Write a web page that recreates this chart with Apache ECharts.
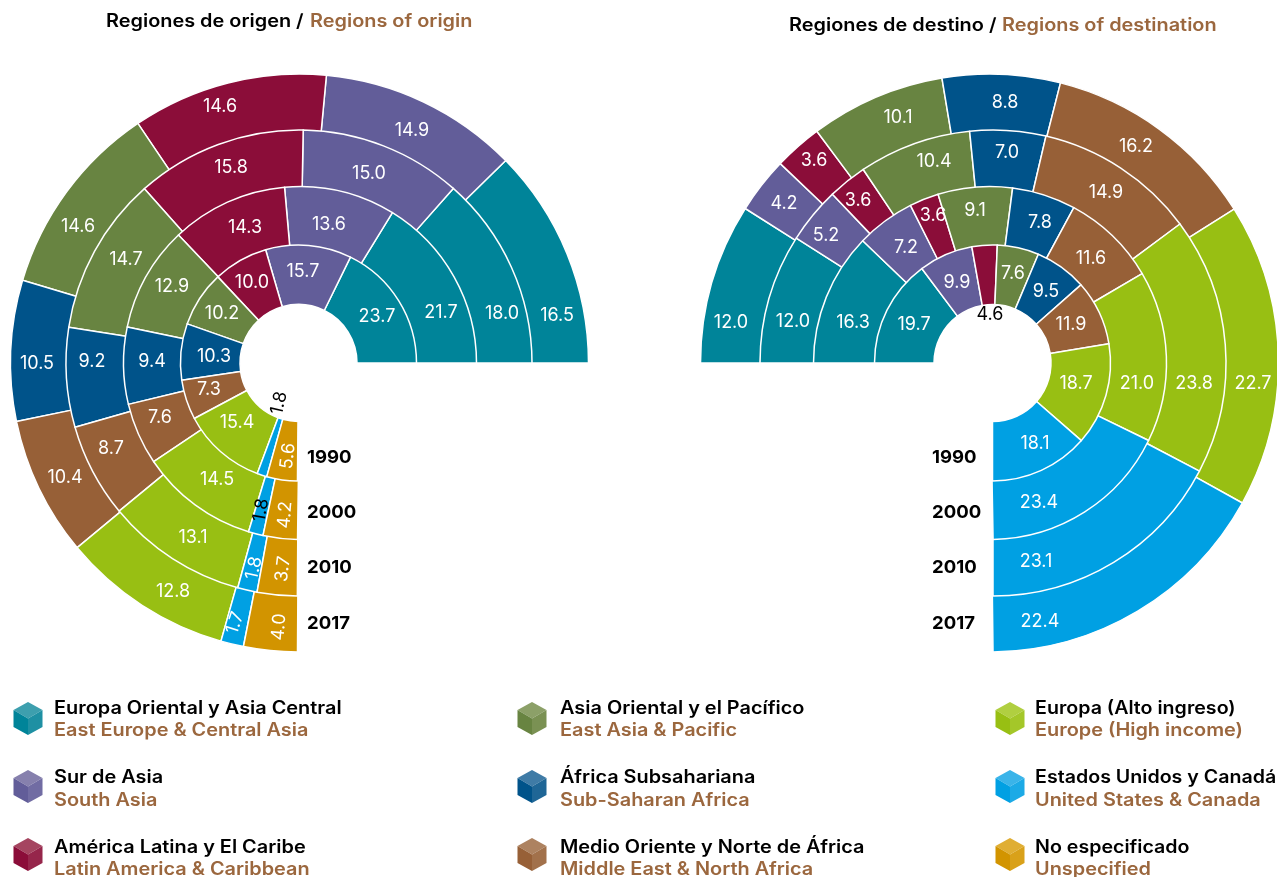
<!DOCTYPE html>
<html>
<head>
<meta charset="utf-8">
<style>html,body{margin:0;padding:0;background:#fff}#main{width:1277px;height:877px}</style>
<script src="https://cdn.jsdelivr.net/npm/echarts@6/dist/echarts.min.js"></script>
</head>
<body>
<div id="main"></div>
<script>
var years = ['1990', '2000', '2010', '2017'];

// orden: desde el este, en sentido antihorario
var originRegions = ['Europa Oriental y Asia Central', 'Sur de Asia', 'América Latina y El Caribe', 'Asia Oriental y el Pacífico', 'África Subsahariana', 'Medio Oriente y Norte de África', 'Europa (Alto ingreso)', 'Estados Unidos y Canadá', 'No especificado'];
var origin1990 = [23.7, 15.7, 10.0, 10.2, 10.3, 7.3, 15.4, 1.8, 5.6];
var origin2000 = [21.7, 13.6, 14.3, 12.9, 9.4, 7.6, 14.5, 1.8, 4.2];
var origin2010 = [18.0, 15.0, 15.8, 14.7, 9.2, 8.7, 13.1, 1.8, 3.7];
var origin2017 = [16.5, 14.9, 14.6, 14.6, 10.5, 10.4, 12.8, 1.7, 4.0];

// orden: desde el oeste, en sentido horario
var destRegions = ['Europa Oriental y Asia Central', 'Sur de Asia', 'América Latina y El Caribe', 'Asia Oriental y el Pacífico', 'África Subsahariana', 'Medio Oriente y Norte de África', 'Europa (Alto ingreso)', 'Estados Unidos y Canadá'];
var dest1990 = [19.7, 9.9, 4.6, 7.6, 9.5, 11.9, 18.7, 18.1];
var dest2000 = [16.3, 7.2, 3.6, 9.1, 7.8, 11.6, 21.0, 23.4];
var dest2010 = [12.0, 5.2, 3.6, 10.4, 7.0, 14.9, 23.8, 23.1];
var dest2017 = [12.0, 4.2, 3.6, 10.1, 8.8, 16.2, 22.7, 22.4];

var legendEs = ['Europa Oriental y Asia Central', 'Sur de Asia', 'América Latina y El Caribe', 'Asia Oriental y el Pacífico', 'África Subsahariana', 'Medio Oriente y Norte de África', 'Europa (Alto ingreso)', 'Estados Unidos y Canadá', 'No especificado'];
var legendEn = ['East Europe & Central Asia', 'South Asia', 'Latin America & Caribbean', 'East Asia & Pacific', 'Sub-Saharan Africa', 'Middle East & North Africa', 'Europe (High income)', 'United States & Canada', 'Unspecified'];
var colors = ['#008499', '#625d99', '#8b0d39', '#688441', '#00538a', '#976037', '#98bf13', '#00a0e3', '#d29400'];
var lightColors = ['#3d9fae', '#8680ad', '#a54560', '#8ca068', '#3f7ba6', '#ad8260', '#b0cf40', '#3ab4e9', '#e0ae33'];
var midColors = ['#1e90a3', '#716ca3', '#96264b', '#7a9153', '#1f6696', '#a2714b', '#a4c729', '#1caae6', '#d9a11a'];

var FONT = 'Inter';
var BROWN = '#9b673e';
var TEXT_STRETCH = 1.105; // la fuente original es mas ancha
// cada anillo se solapa un poco con el anterior, que va encima
var radii = [[58.5, 118], [114, 176.5], [172, 233], [229, 289]];
var originCx = [298.5, 300, 299, 299.5];
var originEnd = [269.5, 269.2, 269.6, 269.6];
var destCx = [992.5, 990, 993, 989.5];
var destEnd = [-90, -89, -90, -89.3];
var CY = 363;

// donde va cada etiqueta, por anillo e indice
var originLabelPos = [
    [[377, 317], [303, 272], [252, 283], [222, 314], [214, 357], [209, 390], [237, 423], [279, 403], [288, 456]],
    [[441, 313], [329, 225], [245, 228], [172, 287], [152, 362], [160, 418], [217, 480], [261, 510], [285, 515]],
    [[502, 314], [369, 174], [231, 168], [126, 260], [92, 362], [111, 449], [193, 538], [254, 568], [283, 569]],
    [[557, 316], [412, 131], [220, 107], [78, 227], [37, 364], [65, 478], [173, 592], [235, 623], [279, 627]]
];
var destLabelPos = [
    [[914, 325], [957, 283], [990, 315], [1013, 274], [1046, 292], [1071, 325], [1076, 384], [1035, 444]],
    [[853, 323], [906, 248], [933, 216], [975, 211], [1040, 223], [1091, 259], [1137, 384], [1039, 503]],
    [[793, 322], [826, 236], [858, 201], [934, 162], [1007, 153], [1106, 193], [1194, 384], [1036, 562]],
    [[731, 323], [784, 204], [814, 161], [898, 118], [1005, 103], [1136, 147], [1253, 384], [1040, 622]]
];
var originRotate = {'0-7': 77, '0-8': 83, '1-7': 80, '1-8': 85, '2-7': 78, '2-8': 83, '3-7': 72, '3-8': 85};
var originBlack = {'0-7': 1, '1-7': 1};
var destBlack = {'0-2': 1};

function ringSeries(values, regions, ring, cx, start, end, clockwise, rotate, black, labelPos) {
    return {
        type: 'pie',
        center: [cx, CY],
        radius: radii[ring],
        startAngle: start,
        endAngle: end,
        clockwise: clockwise,
        silent: true,
        avoidLabelOverlap: false,
        animation: false,
        itemStyle: {borderColor: '#fff', borderWidth: 1.5},
        labelLine: {show: false},
        labelLayout: function (p) {
            var pos = labelPos[ring][p.dataIndex];
            return {x: pos[0], y: pos[1]};
        },
        data: values.map(function (v, i) {
            var key = ring + '-' + i;
            return {
                name: regions[i],
                value: v,
                itemStyle: {color: colors[i]},
                label: {
                    show: true,
                    position: 'inside',
                    rotate: rotate[key] || 0,
                    color: black[key] ? '#000' : '#fff',
                    fontFamily: FONT,
                    fontSize: 18,
                    formatter: function (p) { return p.value.toFixed(1); }
                }
            };
        })
    };
}

var series = [];
[origin2017, origin2010, origin2000, origin1990].forEach(function (vals, k) {
    var ring = 3 - k;
    series.push(ringSeries(vals, originRegions, ring, originCx[ring], 0, originEnd[ring], false, originRotate, originBlack, originLabelPos));
});
[dest2017, dest2010, dest2000, dest1990].forEach(function (vals, k) {
    var ring = 3 - k;
    series.push(ringSeries(vals, destRegions, ring, destCx[ring], 180, destEnd[ring], true, {}, destBlack, destLabelPos));
});

function txt(x, y, text, color, size, weight, stretch) {
    return {
        type: 'text', x: x, y: y, scaleX: stretch || TEXT_STRETCH,
        style: {text: text, fill: color, font: (weight || 600) + ' ' + size + 'px ' + FONT, textAlign: 'left', textVerticalAlign: 'middle'}
    };
}

function cube(cx, cy, i) {
    var w = 14.5, h = 16.5, d = 8.5;
    return {
        type: 'group', x: cx, y: cy,
        children: [
            {type: 'polygon', shape: {points: [[0, -h], [w, -d], [0, 0], [-w, -d]]}, style: {fill: lightColors[i]}},
            {type: 'polygon', shape: {points: [[-w, -d], [0, 0], [0, h], [-w, d]]}, style: {fill: colors[i]}},
            {type: 'polygon', shape: {points: [[w, -d], [0, 0], [0, h], [w, d]]}, style: {fill: midColors[i]}}
        ]
    };
}

var graphics = [];
// titulos
graphics.push(txt(106, 21.5, 'Regiones de origen / ', '#000', 18));
graphics.push(txt(310, 21.5, 'Regions of origin', BROWN, 18));
graphics.push(txt(789, 25.5, 'Regiones de destino / ', '#000', 18));
graphics.push(txt(1002, 25.5, 'Regions of destination', BROWN, 18));
// años
var yearY = [458, 513, 568, 624];
years.forEach(function (y, i) {
    graphics.push(txt(307, yearY[i], y, '#000', 18, 700, 1.03));
    graphics.push(txt(932, yearY[i], y, '#000', 18, 700, 1.03));
});
// leyenda
var colX = [54, 560, 1035], cubeX = [28, 532, 1010], rowY = [709, 778, 848], cubeY = [718.5, 786.5, 854.5];
var enGap = [22, 23, 22];
legendEs.forEach(function (name, i) {
    var c = Math.floor(i / 3), r = i % 3;
    graphics.push(cube(cubeX[c], cubeY[r], i));
    // la tercera columna llega justo al borde
    graphics.push(txt(colX[c], rowY[r], name, '#000', 18, 600, c === 2 ? 1.09 : TEXT_STRETCH));
    graphics.push(txt(colX[c], rowY[r] + enGap[r], legendEn[i], BROWN, 18));
});

var mychart = echarts.init(document.getElementById('main'));
mychart.setOption({animation: false, series: series, graphic: graphics});
</script>
</body>
</html>
